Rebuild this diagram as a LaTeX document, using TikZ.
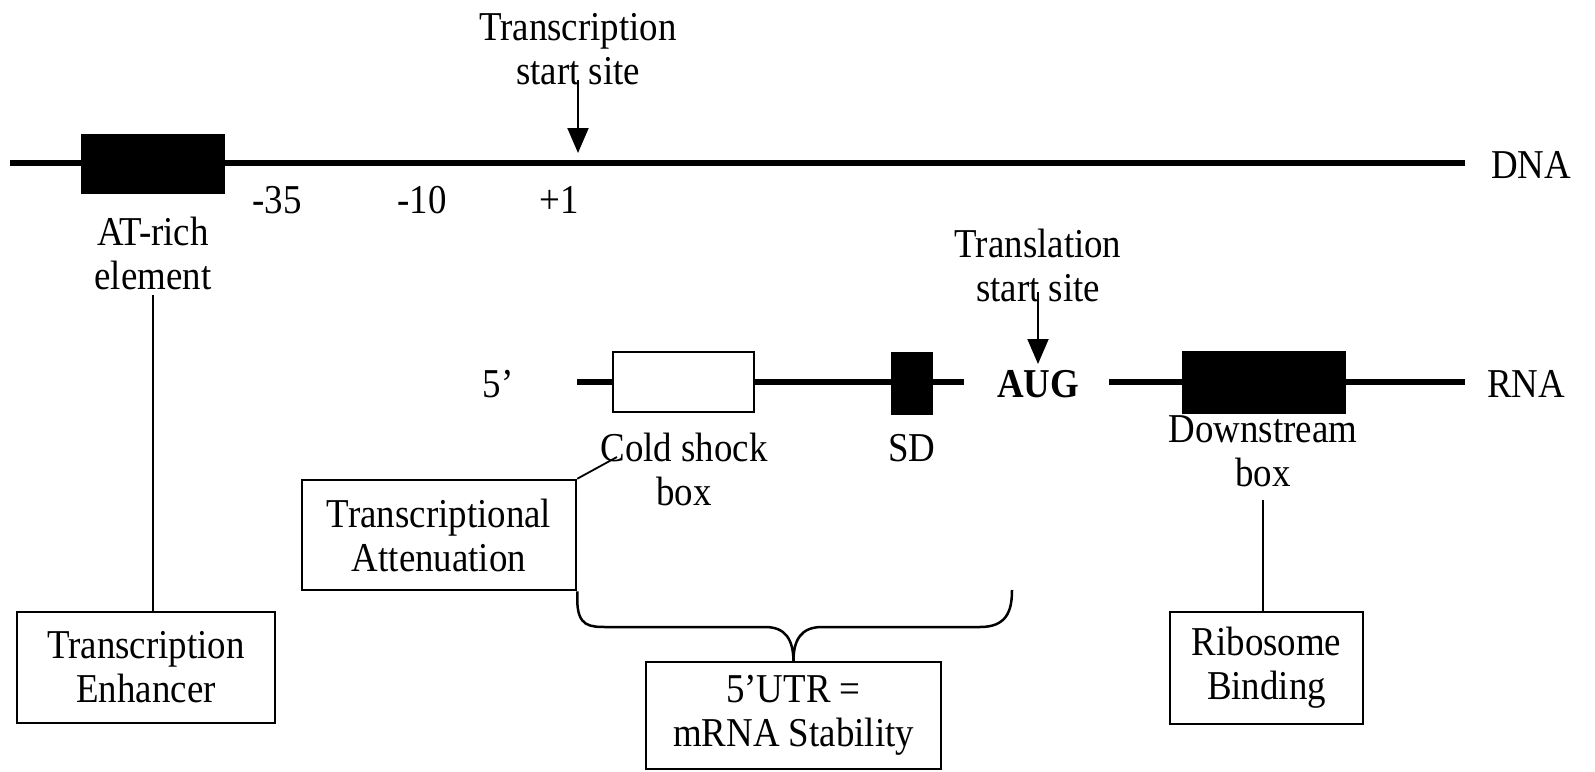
\documentclass[tikz,border=0pt]{standalone}
\usepackage{fontspec}
\setmainfont{Liberation Serif}[FakeStretch=0.9]
\usetikzlibrary{arrows.meta}
\tikzset{
  lbl/.style={font=\fontsize{41}{44}\selectfont, align=center, inner sep=0pt},
  strand/.style={line width=5.5pt},
  blackbox/.style={draw=black, fill=black, line width=1pt, inner sep=0pt},
  whitebox/.style={draw=black, fill=white, line width=2pt, inner sep=0pt},
  infobox/.style={draw=black, line width=2.5pt, fill=white, inner sep=0pt, font=\fontsize{41}{44}\selectfont, align=center},
  conn/.style={line width=1.8pt},
  sitearrow/.style={line width=2pt, -{Triangle[length=25pt,width=21pt]}}
}
\begin{document}
\begin{tikzpicture}[x=1pt,y=-1pt]
\useasboundingbox (0,0) rectangle (1595,771);
% DNA strand
\coordinate (dnaL) at (10,163);
\coordinate (dnaR) at (1465,163);
\draw[strand] (dnaL) -- (dnaR);
\node[lbl] (dna) at (1531,165) {DNA};
\node[blackbox, minimum width=143pt, minimum height=59pt] (at) at (152.5,164) {};
\node[lbl] (tss) at (578,49) {Transcription\\start site};
\coordinate (tssT) at (578,80);
\coordinate (tssP) at (578,153);
\draw[sitearrow] (tssT) -- (tssP);
\node[lbl] (m35) at (277,200) {-35};
\node[lbl] (m10) at (422,200) {-10};
\node[lbl] (p1) at (559,200) {+1};
\node[lbl] (atl) at (153,253) {AT-rich\\element};
% Transcription enhancer
\node[infobox, minimum width=258pt, minimum height=111pt] (enh) at (146,667.5) {Transcription\\Enhancer};
\coordinate (atT) at (153,295);
\draw[conn] (atT) -- (atT |- enh.north);
% RNA strand
\coordinate (rnaL) at (577,382);
\coordinate (rnaM) at (964,382);
\coordinate (rnaN) at (1109,382);
\coordinate (rnaR) at (1465,382);
\draw[strand] (rnaL) -- (rnaM);
\draw[strand] (rnaN) -- (rnaR);
\node[lbl] (five) at (498,384) {5’};
\node[lbl] (rna) at (1526,384) {RNA};
\node[whitebox, minimum width=141pt, minimum height=60pt] (csb) at (683.5,382) {};
\node[blackbox, minimum width=41pt, minimum height=62pt] (sd) at (911.5,383) {};
\node[lbl, font=\fontsize{41}{44}\selectfont\bfseries] (aug) at (1038,384) {AUG};
\node[blackbox, minimum width=163pt, minimum height=62pt] (dsb) at (1263.5,382) {};
\node[lbl] (tls) at (1038,265.5) {Translation\\start site};
\coordinate (tlsT) at (1038,292);
\coordinate (tlsP) at (1038,364);
\draw[sitearrow] (tlsT) -- (tlsP);
\node[lbl] (csl) at (684,469) {Cold shock\\box};
\node[lbl] (sdl) at (912,448) {SD};
\node[lbl] (dsl) at (1263,451.5) {Downstream\\box};
% Ribosome binding
\node[infobox, minimum width=193pt, minimum height=112pt] (rib) at (1266.5,668) {Ribosome\\Binding};
\coordinate (dsT) at (1263,500);
\draw[conn] (dsT) -- (dsT |- rib.north);
% Transcriptional attenuation
\node[infobox, minimum width=274pt, minimum height=110pt] (att) at (439,535) {Transcriptional\\Attenuation};
\coordinate (csPt) at (617,457);
\draw[conn] (att.north east) -- (csPt);
% 5'UTR box and brace
\node[infobox, minimum width=295pt, minimum height=107pt] (utr) at (793.5,715.5) {5’UTR =\\mRNA Stability};
\coordinate (brR) at (1012,590);
\draw[line width=2.5pt]
  (att.south east) -- ++(0,8)
  .. controls +(0,28) and (590,627) .. (608,627)
  -- (765,627)
  .. controls (786,627) and (793,640) .. (utr.north)
  .. controls (793.5,640) and (801,627) .. (822,627)
  -- (980,627)
  .. controls (1006,627) and (1012,612) .. (brR);
\end{tikzpicture}
\end{document}
